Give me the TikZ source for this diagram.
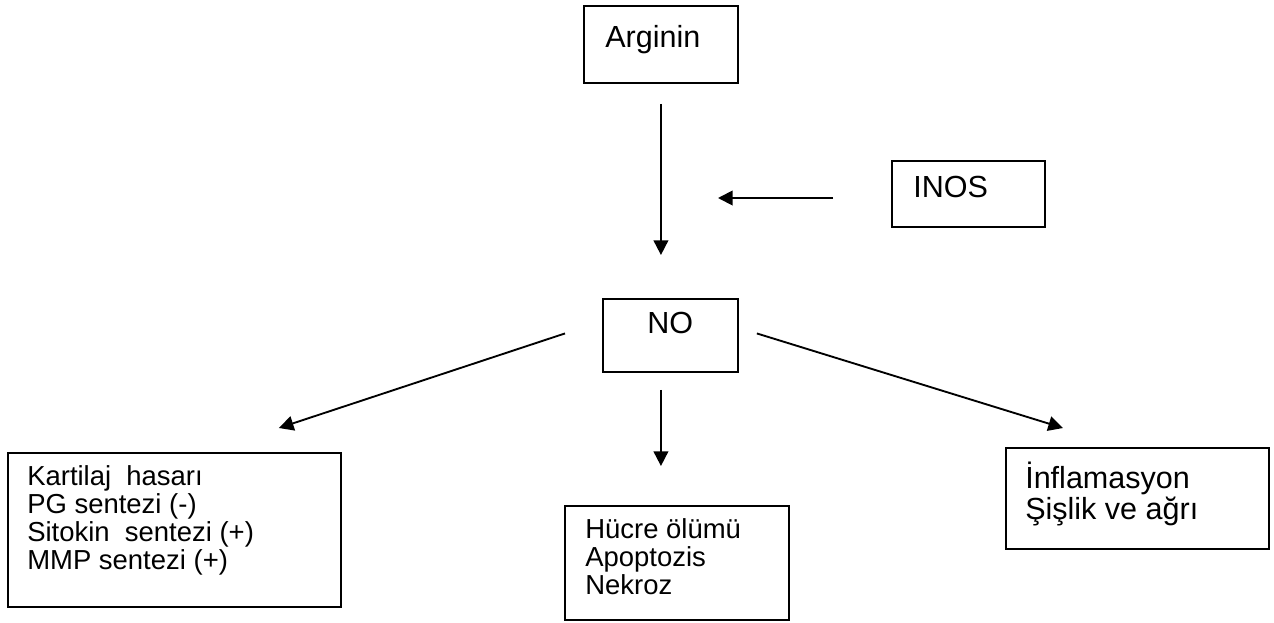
\documentclass[tikz,border=0pt]{standalone}
\usepackage{fontspec}
\setmainfont{Liberation Sans}
\usepackage{tikz}
\usetikzlibrary{calc,arrows.meta,positioning}

\newcommand{\rows}[1]{\begin{tabular}[t]{@{}l@{}}#1\end{tabular}}

\tikzset{
	box/.style={draw,line width=1.4pt,inner sep=0pt},
	big/.style={font=\fontsize{22.9}{22.5}\selectfont,inner sep=0pt},
	small/.style={font=\fontsize{20.6}{20.5}\selectfont,inner sep=0pt},
	arr/.style={line width=1.4pt,-{Triangle[length=11pt,width=11pt]}}
}

\begin{document}
\begin{tikzpicture}[x=0.75pt,y=-0.75pt]
		\useasboundingbox (0,0) rectangle (1274,622);
		% boxes
		\node[box,anchor=north west,minimum width=154*0.75pt,minimum height=77*0.75pt] (arg) at (583,5) {};
		\node[box,anchor=north west,minimum width=153*0.75pt,minimum height=66*0.75pt] (inos) at (891,160) {};
		\node[box,anchor=north west,minimum width=135*0.75pt,minimum height=73*0.75pt] (no) at (602,298) {};
		\node[box,anchor=north west,minimum width=333*0.75pt,minimum height=154*0.75pt] (kart) at (7,452) {};
		\node[box,anchor=north west,minimum width=224*0.75pt,minimum height=114*0.75pt] (hucre) at (564,505) {};
		\node[box,anchor=north west,minimum width=263*0.75pt,minimum height=101*0.75pt] (infl) at (1005,447) {};
		
		% texts
		\node[big,anchor=base west] (argT) at (605,47) {Arginin};
		\node[big,anchor=base west] (inosT) at (913,197) {INOS};
		\node[big,anchor=base west] (noT) at (647,333) {NO};
		\node[small,anchor=base west] (kartT) at (27,485) {\rows{Kartilaj\ \ hasarı\\PG sentezi (-)\\Sitokin\ \ sentezi (+)\\MMP sentezi (+)}};
		\node[small,anchor=base west] (hucreT) at (585,538) {\rows{Hücre ölümü\\Apoptozis\\Nekroz}};
		\node[big,anchor=base west] (inflT) at (1025,488) {\rows{İnflamasyon\\Şişlik ve ağrı}};
		
		% connectors
		\coordinate (inosEnd) at (718,198);
		\draw[arr,shorten <=20*0.75pt,shorten >=43*0.75pt] (arg.south) -- (arg.south |- no.north);
		\draw[arr,shorten <=58*0.75pt] (inos.west |- inosEnd) -- (inosEnd);
		\draw[arr] ($(no.west)+(-37,-2)$) -- ($(kart.north east)+(-63,-24)$);
		\draw[arr] ($(no.east)+(18,-2)$) -- ($(infl.north west)+(58,-19)$);
		\draw[arr,shorten <=17*0.75pt,shorten >=39*0.75pt] (arg.south |- no.south) -- (arg.south |- hucre.north);
	\end{tikzpicture}
\end{document}
